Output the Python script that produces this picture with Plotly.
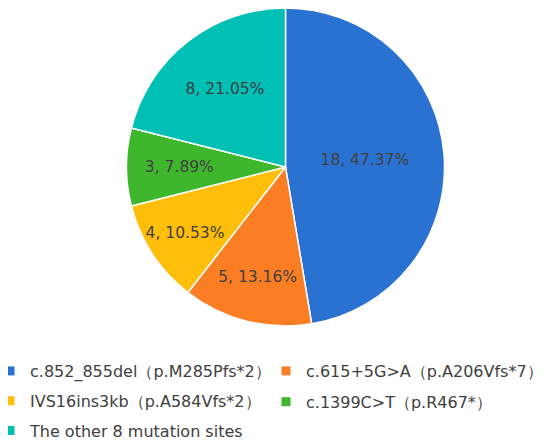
import plotly.graph_objects as go

# mutation sites and number of cases
labels = [
    "c.852_855del（p.M285Pfs*2）",
    "c.615+5G>A（p.A206Vfs*7）",
    "IVS16ins3kb（p.A584Vfs*2）",
    "c.1399C>T（p.R467*）",
    "The other 8 mutation sites",
]
counts = [18, 5, 4, 3, 8]
colors = ["#2A72D2", "#FC7E24", "#FFBE0A", "#3EB72D", "#00BFB5"]
# legend column of each site (two columns, filled row by row)
legend_col = ["legend", "legend2", "legend", "legend2", "legend"]

# page body has an 8px margin, so the figure is a bit smaller than the window
W, H = 542, 439

fig = go.Figure()

fig.add_trace(
    go.Pie(
        labels=labels,
        values=counts,
        sort=False,
        direction="clockwise",
        rotation=0,
        marker=dict(colors=colors, line=dict(color="white", width=1.5)),
        texttemplate="%{value}, %{percent:.2%}",
        textposition="inside",
        insidetextorientation="horizontal",
        textfont=dict(family="DejaVu Sans", size=15.5, color="#404040"),
        hoverinfo="label+value+percent",
        showlegend=False,
        domain=dict(x=[117 / W, 438 / W], y=[1 - 318 / H, 1.0]),
    )
)

# legend entries
for lab, c, lg in zip(labels, colors, legend_col):
    fig.add_trace(
        go.Scatter(
            x=[None], y=[None],
            mode="markers",
            marker=dict(symbol="square", size=9, color=c),
            name=lab,
            legend=lg,
            legendgroup=lab,
            showlegend=True,
            hoverinfo="skip",
        )
    )

leg_font = dict(family="DejaVu Sans", size=16, color="#404040")

fig.update_layout(
    width=W,
    height=H,
    margin=dict(l=0, r=0, t=0, b=0, autoexpand=False),
    paper_bgcolor="white",
    plot_bgcolor="white",
    uniformtext=dict(minsize=15.5, mode="show"),
    xaxis=dict(visible=False),
    yaxis=dict(visible=False),
    legend=dict(
        x=-18 / W, xanchor="left",
        y=1 - 346 / H, yanchor="top",
        font=leg_font,
        tracegroupgap=6,
        itemwidth=30,
        bgcolor="rgba(0,0,0,0)",
    ),
    legend2=dict(
        x=258 / W, xanchor="left",
        y=1 - 346 / H, yanchor="top",
        font=leg_font,
        tracegroupgap=7,
        itemwidth=30,
        bgcolor="rgba(0,0,0,0)",
    ),
)

fig.write_html("out.html")
